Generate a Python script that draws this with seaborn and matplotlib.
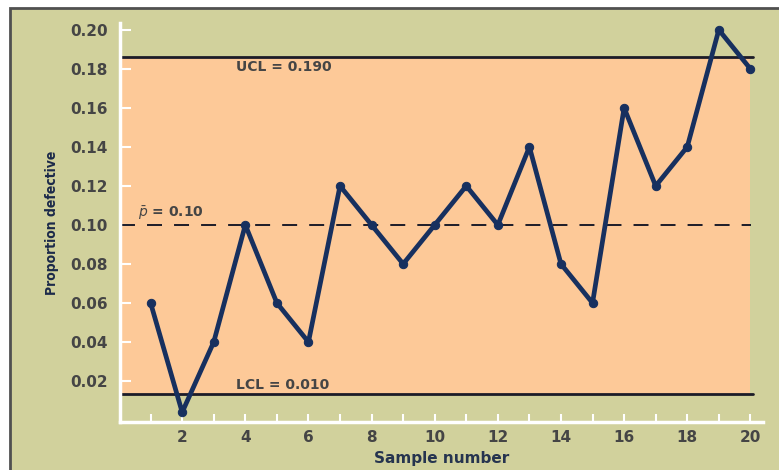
import pandas as pd
import matplotlib.pyplot as plt
import seaborn as sns
from matplotlib.patches import Rectangle

# sample proportions
samples = list(range(1, 21))
proportion = [0.06, 0.004, 0.04, 0.10, 0.06, 0.04, 0.12, 0.10, 0.08, 0.10,
              0.12, 0.10, 0.14, 0.08, 0.06, 0.16, 0.12, 0.14, 0.20, 0.18]

# control limits (where the lines sit on the picture, and their labels)
ucl_line = 0.186
lcl_line = 0.0135
p_bar = 0.10
ucl_text = 'UCL = 0.190'
lcl_text = 'LCL = 0.010'
pbar_text = r'$\bar{p}$ = 0.10'

y_ticks = [0.02, 0.04, 0.06, 0.08, 0.10, 0.12, 0.14, 0.16, 0.18, 0.20]
x_labels = [2, 4, 6, 8, 10, 12, 14, 16, 18, 20]

df = pd.DataFrame({'Sample': samples, 'Proportion': proportion})

khaki = '#d1d19c'
orange = '#fdc998'
navy = '#17305f'
grey = '#454545'

sns.set_style('ticks')
plt.rcParams['font.family'] = ['DejaVu Sans']

fig = plt.figure(figsize=(7.79, 4.70), dpi=100)
fig.patch.set_facecolor('white')
# khaki panel with a dark frame, kept behind the axes
fig.patches.append(Rectangle((10 / 779, -0.01), 1.05, 1 - 8 / 470 + 0.01,
                             transform=fig.transFigure, facecolor=khaki,
                             edgecolor='#505050', linewidth=2, zorder=-5))

ax = fig.add_axes([120 / 779, 1 - 422 / 470, (763 - 120) / 779, (422 - 23) / 470])
ax.set_facecolor('none')

# orange band between the limits
ax.fill_between([0, 20], lcl_line, ucl_line, color=orange, zorder=0, linewidth=0)

ax.axhline(ucl_line, color='#1c1c28', linewidth=2, xmax=0.985, zorder=2)
ax.axhline(lcl_line, color='#1c1c28', linewidth=2, xmax=0.985, zorder=2)
ax.axhline(p_bar, color='#1c1c28', linewidth=1.4, linestyle=(0, (7.7, 6.2)),
           xmax=0.982, zorder=2)

sns.lineplot(data=df, x='Sample', y='Proportion', ax=ax, color=navy,
             linewidth=3.4, marker='o', markersize=6, markeredgecolor=navy,
             zorder=3)

ax.text(3.7, ucl_line - 0.0015, ucl_text, fontsize=10, color=grey,
        fontweight='bold', va='top', ha='left')
ax.text(3.7, lcl_line + 0.0008, lcl_text, fontsize=10, color=grey,
        fontweight='bold', va='bottom', ha='left')
ax.text(0.6, p_bar + 0.0015, pbar_text, fontsize=10, color=grey,
        fontweight='bold', va='bottom', ha='left')

ax.set_xlim(0.03, 20.4)
ax.set_ylim(-0.001, 0.2035)
ax.set_xticks(samples)
ax.set_xticklabels([str(s) if s in x_labels else '' for s in samples])
ax.set_yticks(y_ticks)
ax.set_yticklabels([f'{v:.2f}' for v in y_ticks])
ax.tick_params(axis='both', direction='in', color='white', width=1.5,
               labelcolor=grey, labelsize=11)
ax.tick_params(axis='x', length=6, pad=6)
ax.tick_params(axis='y', length=8, pad=9)
for lab in ax.get_xticklabels() + ax.get_yticklabels():
    lab.set_fontweight('bold')

for side in ['top', 'right']:
    ax.spines[side].set_visible(False)
for side in ['left', 'bottom']:
    ax.spines[side].set_color('white')
    ax.spines[side].set_linewidth(2.5)

ax.set_xlabel('Sample number', fontsize=11, fontweight='bold', color='#26344f',
              labelpad=4)
ax.set_ylabel('Proportion defective', fontsize=10, color='#1c2a4a',
              fontweight='bold', fontstretch='condensed', labelpad=8)

fig.savefig('out.png', dpi=100, facecolor=fig.get_facecolor())
